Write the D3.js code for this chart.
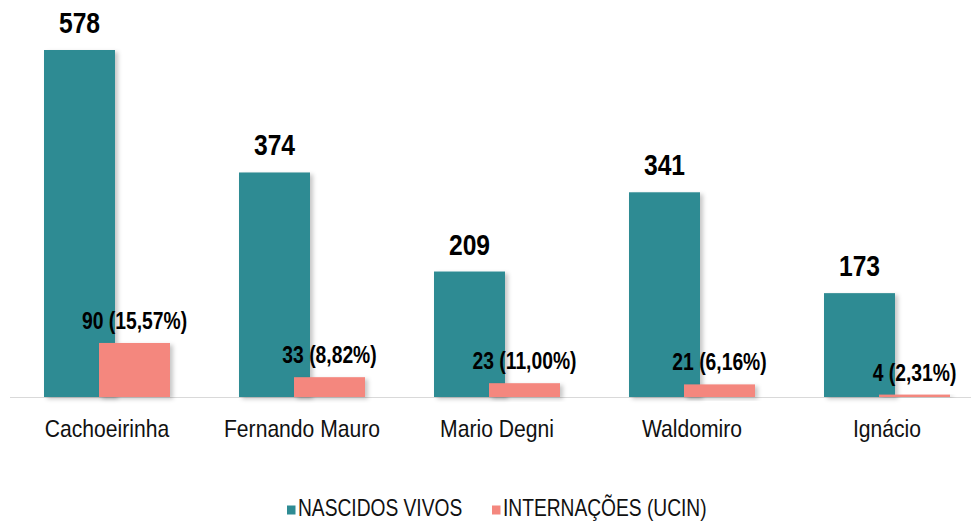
<!DOCTYPE html>
<html><head><meta charset="utf-8">
<script src="https://cdn.jsdelivr.net/npm/d3@7"></script>
<style>
body{margin:0;background:#fff;}
svg{display:block;}
text{font-family:"Liberation Sans",Arial,sans-serif;}
</style></head>
<body>
<svg id="chart" width="971" height="522"></svg>
<script>
const categories = ["Cachoeirinha","Fernando Mauro","Mario Degni","Waldomiro","Ignácio"];
const seriesNames = ["NASCIDOS VIVOS","INTERNAÇÕES (UCIN)"];
const nascidosVivos = [578,374,209,341,173];
const internacoes = [90,33,23,21,4];
const internacoesPct = ["15,57%","8,82%","11,00%","6,16%","2,31%"];
const colors = ["#2E8B93","#F4877E"];

const svg = d3.select("#chart");
const W = 971, H = 522;
const baseY = 397;

const defs = svg.append("defs");
const f = defs.append("filter").attr("id","sh").attr("x","-20%").attr("y","-20%").attr("width","150%").attr("height","150%");
f.append("feDropShadow").attr("dx",3).attr("dy",2).attr("stdDeviation",2).attr("flood-color","#000").attr("flood-opacity",0.22);

const x0 = d3.scaleBand().domain(categories).range([9.5,984.5]).paddingInner(0);
const x1 = d3.scaleBand().domain(seriesNames).range([34.5,144.5]).paddingInner(0);
const y = d3.scaleLinear().domain([0,578]).range([baseY,50]);

// baseline
svg.append("line").attr("x1",10).attr("x2",W).attr("y1",baseY+0.5).attr("y2",baseY+0.5)
  .attr("stroke","#d9d9d9").attr("stroke-width",1);

const rows = categories.map((c,i)=>({c, v:[nascidosVivos[i], internacoes[i]], pct:internacoesPct[i]}));

const g = svg.selectAll("g.grp").data(rows).join("g").attr("class","grp")
  .attr("transform",d=>`translate(${x0(d.c)},0)`);

const bw = 71;
g.append("rect")
  .attr("x",x1(seriesNames[0]))
  .attr("width",bw)
  .attr("y",d=>y(d.v[0]))
  .attr("height",d=>baseY-y(d.v[0]))
  .attr("fill",colors[0]).attr("filter","url(#sh)");
g.append("rect")
  .attr("x",x1(seriesNames[1]))
  .attr("width",bw)
  .attr("y",d=>y(d.v[1]))
  .attr("height",d=>baseY-y(d.v[1]))
  .attr("fill",colors[1]).attr("filter","url(#sh)");

function narrowText(sel, x, yv, size, sx, weight, txt, anchor){
  const t = sel.append("g")
    .attr("transform",d=>`translate(${typeof x==="function"?x(d):x},${yv(d)}) scale(${sx},1)`)
    .append("text")
    .attr("text-anchor",anchor||"middle")
    .attr("font-size",size).attr("font-weight",weight).attr("fill","#000")
    .text(txt);
  return t;
}

narrowText(g, x1(seriesNames[0])+bw/2, d=>y(d.v[0])-17, 29, 0.85, "bold", d=>d.v[0]);
narrowText(g, x1(seriesNames[1])+bw/2, d=>y(d.v[1])-14, 23, 0.84, "bold", d=>`${d.v[1]} (${d.pct})`);
narrowText(g, x0.bandwidth()/2, d=>437, 24, 0.88, "normal", d=>d.c).attr("fill","#111");

// legend
const legX = [287, 492];
const lg = svg.selectAll("g.leg").data(seriesNames).join("g").attr("class","leg")
  .attr("transform",(d,i)=>`translate(${legX[i]},0)`);
lg.append("rect").attr("x",0).attr("y",505.5).attr("width",8.5).attr("height",9)
  .attr("fill",(d,i)=>colors[i]);
lg.append("g").attr("transform","translate(11,516) scale(0.8,1)")
  .append("text").attr("font-size",24).attr("fill","#111").text(d=>d);
</script>
</body></html>
